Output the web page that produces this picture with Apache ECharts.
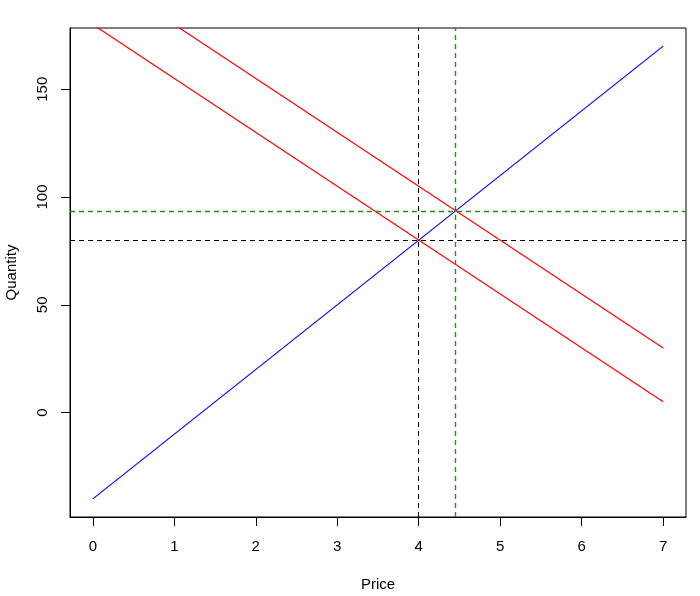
<!DOCTYPE html>
<html>
<head>
<meta charset="utf-8">
<script src="https://cdn.jsdelivr.net/npm/echarts@6/dist/echarts.min.js"></script>
<style>html,body{margin:0;padding:0;background:#fff}#c{width:700px;height:596px}</style>
</head>
<body>
<div id="c"></div>
<script>
// Data
var prices = [0, 7];
var supply = [-40, 170];
var demand1 = [180, 5];
var demand2 = [205, 30];
var eq1 = {price: 4, qty: 80};
var eq2 = {price: 4.4545, qty: 93.6};
var xTicks = [0, 1, 2, 3, 4, 5, 6, 7];
var yTicks = [0, 50, 100, 150];

function pairs(xs, ys) { return xs.map(function (x, i) { return [x, ys[i]]; }); }

var font = '"Liberation Sans", Arial, Helvetica, sans-serif';
var green = '#1f8f1f';
var chart = echarts.init(document.getElementById('c'), null, {renderer: 'canvas'});
chart.setOption({
  animation: false,
  backgroundColor: '#ffffff',
  grid: {left: 70, right: 14, top: 28, bottom: 79, containLabel: false, outerBoundsMode: 'none',
         show: true, borderColor: '#000', borderWidth: 1, backgroundColor: 'transparent'},
  xAxis: {
    type: 'value', min: -0.28, max: 7.28,
    name: 'Price', nameLocation: 'middle', nameGap: 60,
    nameTextStyle: {fontFamily: font, fontSize: 15, color: '#000'},
    axisLine: {show: true, onZero: false, lineStyle: {color: '#000', width: 1}},
    axisTick: {show: true, inside: false, length: 9, customValues: xTicks, lineStyle: {color: '#000'}},
    axisLabel: {customValues: xTicks, margin: 22, fontFamily: font, fontSize: 15, color: '#000'},
    splitLine: {show: false}
  },
  yAxis: {
    type: 'value', min: -48.4, max: 178.4,
    name: 'Quantity', nameLocation: 'middle', nameGap: 51,
    nameTextStyle: {fontFamily: font, fontSize: 15, color: '#000'},
    axisLine: {show: true, onZero: false, lineStyle: {color: '#000', width: 1}},
    axisTick: {show: true, inside: false, length: 9, customValues: yTicks, lineStyle: {color: '#000'}},
    axisLabel: {customValues: yTicks, rotate: 90, margin: 20, fontFamily: font, fontSize: 15, color: '#000'},
    splitLine: {show: false}
  },
  series: [
    {type: 'line', data: pairs(prices, supply), showSymbol: false, symbol: 'none', clip: true,
     lineStyle: {color: '#0000ff', width: 1.2}},
    {type: 'line', data: pairs(prices, demand1), showSymbol: false, symbol: 'none', clip: true,
     lineStyle: {color: '#ff0000', width: 1.2}},
    {type: 'line', data: pairs(prices, demand2), showSymbol: false, symbol: 'none', clip: true,
     lineStyle: {color: '#ff0000', width: 1.2},
     markLine: {silent: true, symbol: 'none', label: {show: false},
       lineStyle: {color: '#000', type: [5, 4], width: 1},
       data: [
         {xAxis: eq1.price},
         {yAxis: eq1.qty},
         {xAxis: eq2.price, lineStyle: {color: green, type: [5, 4], width: 1.4}},
         {yAxis: eq2.qty, lineStyle: {color: green, type: [5, 4], width: 1.4}}
       ]}}
  ]
});
</script>
</body>
</html>
